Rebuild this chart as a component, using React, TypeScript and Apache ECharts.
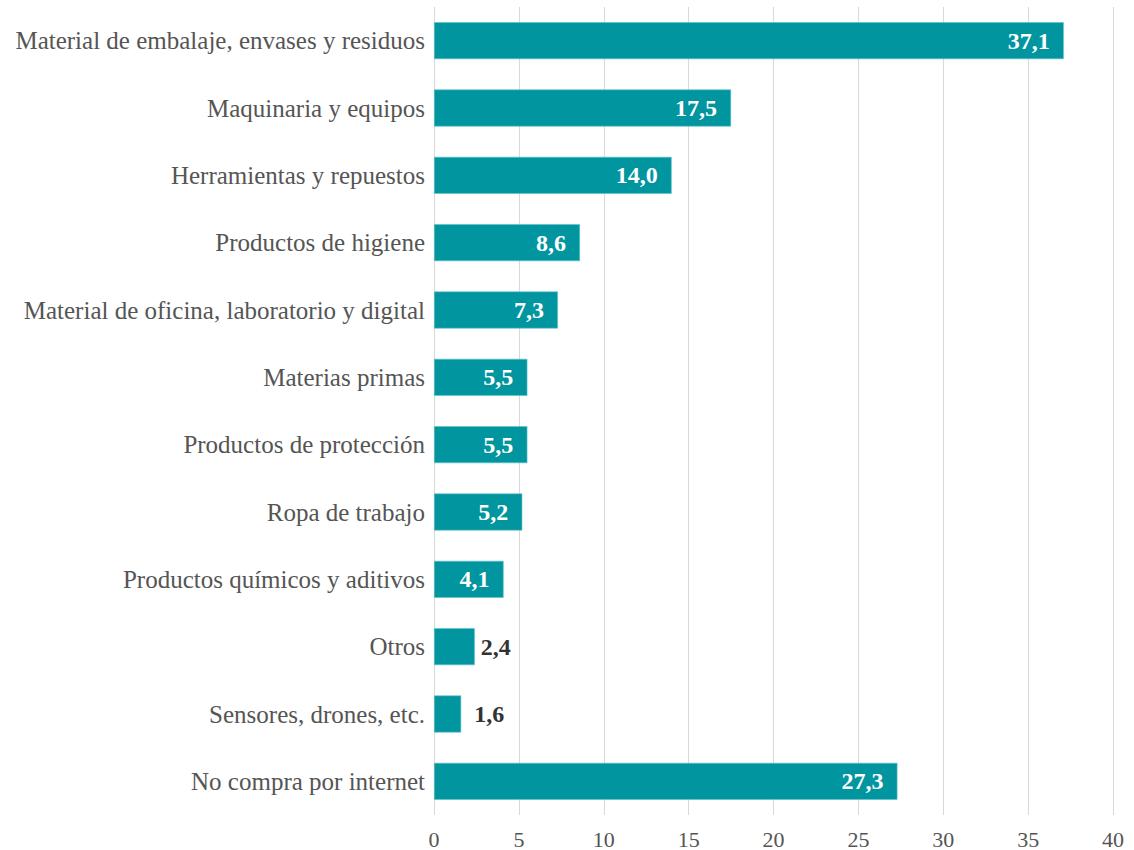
import React, { useEffect, useRef } from "react";
import * as echarts from "echarts";

const categories = [
  "Material de embalaje, envases y residuos",
  "Maquinaria y equipos",
  "Herramientas y repuestos",
  "Productos de higiene",
  "Material de oficina, laboratorio y digital",
  "Materias primas",
  "Productos de protección",
  "Ropa de trabajo",
  "Productos químicos y aditivos",
  "Otros",
  "Sensores, drones, etc.",
  "No compra por internet",
];
const values = [37.1, 17.5, 14.0, 8.6, 7.3, 5.5, 5.5, 5.2, 4.1, 2.4, 1.6, 27.3];
const outsideLabelThreshold = 3;

const FONT = "'Liberation Serif', 'DejaVu Serif', serif";

export default function App() {
  const ref = useRef<HTMLDivElement>(null);
  useEffect(() => {
    if (!ref.current) return;
    const chart = echarts.init(ref.current, undefined, { renderer: "svg" });
    const cats = [...categories].reverse();
    const vals = [...values].reverse();
    chart.setOption({
      animation: false,
      grid: { left: 434, right: 21, top: 7, bottom: 35, containLabel: false },
      xAxis: {
        type: "value",
        min: 0,
        max: 40,
        interval: 5,
        axisLine: { show: false },
        axisTick: { show: false },
        splitLine: { show: true, lineStyle: { color: "#d9d9d9", width: 1 } },
        axisLabel: { color: "#555", fontFamily: FONT, fontSize: 22, margin: 13 },
      },
      yAxis: {
        type: "category",
        data: cats,
        axisLine: { show: false },
        axisTick: { show: false },
        axisLabel: { color: "#555", fontFamily: FONT, fontSize: 25, margin: 9 },
      },
      series: [
        {
          type: "bar",
          barWidth: 37,
          data: vals.map((v) => {
            const small = v < outsideLabelThreshold;
            return {
              value: v,
              label: small
                ? {
                    show: true,
                    position: "right",
                    distance: v < 2 ? 13 : 6,
                    color: "#333",
                  }
                : {
                    show: true,
                    position: "insideRight",
                    distance: 14,
                    color: "#fff",
                  },
            };
          }),
          itemStyle: { color: "#00959F", borderColor: "#5fc3c9", borderWidth: 0.6 },
          label: {
            show: true,
            fontFamily: FONT,
            fontSize: 24,
            fontWeight: "bold",
            formatter: (p: any) => p.value.toFixed(1).replace(".", ","),
          },
        },
      ],
    });
    return () => chart.dispose();
  }, []);
  return (
    <div
      ref={ref}
      style={{ position: "absolute", left: 0, top: 0, width: 1134, height: 850 }}
    />
  );
}
